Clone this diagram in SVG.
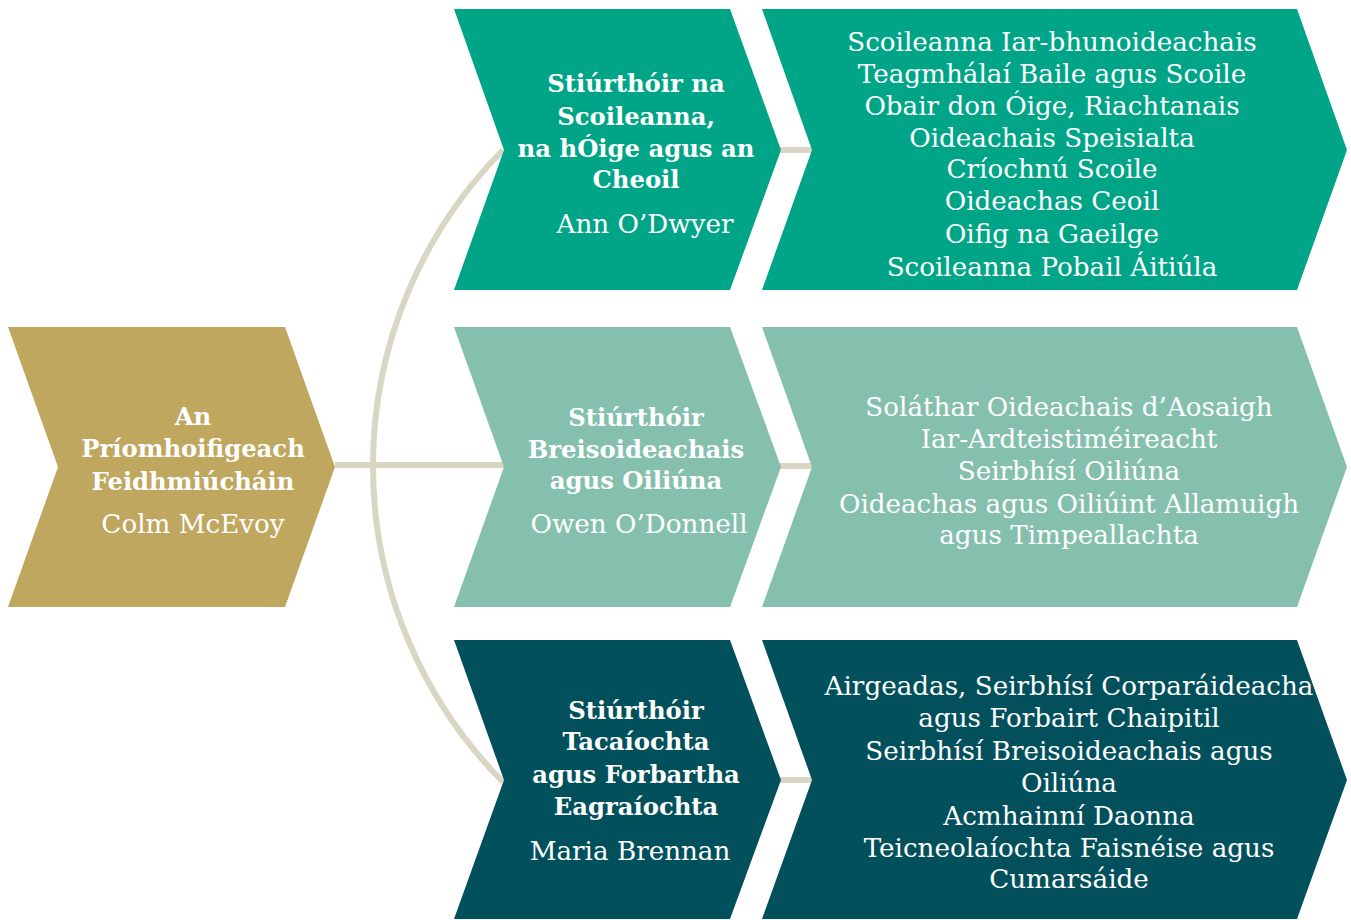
<svg xmlns="http://www.w3.org/2000/svg" width="1351" height="920" viewBox="0 0 1351 920">
<style>
.t{font-family:"DejaVu Serif","Liberation Serif",serif;fill:#ffffff;text-anchor:middle;font-size:26.2px}
.b{font-weight:bold;font-size:24.3px}
.c{fill:none;stroke:#d9d7c4;stroke-width:6}
</style>
<rect width="1351" height="920" fill="#ffffff"/>
<g id="connectors">
<path class="c" d="M335 465 L506 465"/>
<path class="c" d="M503 150 A449 449 0 0 0 503 782"/>
<path class="c" d="M777 150 L814 150" stroke-width="7"/>
<path class="c" d="M777 466 L814 466" stroke-width="7"/>
<path class="c" d="M777 780 L814 780" stroke-width="7"/>
</g>
<g id="ceo">
<polygon points="8,327 285,327 335,467 285,607 8,607 58,467" fill="#bfa760"/>
<text class="t b" x="193" y="425">An</text>
<text class="t b" x="193" y="457">Príomhoifigeach</text>
<text class="t b" x="193" y="490">Feidhmiúcháin</text>
<text class="t" x="193" y="533">Colm McEvoy</text>
</g>
<g id="dir1">
<polygon points="454,9 730,9 781,150 730,290 454,290 504,150" fill="#00a587"/>
<text class="t b" x="636" y="92">Stiúrthóir na</text>
<text class="t b" x="636" y="125">Scoileanna,</text>
<text class="t b" x="636" y="157">na hÓige agus an</text>
<text class="t b" x="636" y="188">Cheoil</text>
<text class="t" x="645" y="233">Ann O’Dwyer</text>
</g>
<g id="units1">
<polygon points="762,9 1297,9 1347,150 1297,290 762,290 812,150" fill="#00a587"/>
<text class="t" x="1052" y="51">Scoileanna Iar-bhunoideachais</text>
<text class="t" x="1052" y="83">Teagmhálaí Baile agus Scoile</text>
<text class="t" x="1052" y="115">Obair don Óige, Riachtanais</text>
<text class="t" x="1052" y="147">Oideachais Speisialta</text>
<text class="t" x="1052" y="178">Críochnú Scoile</text>
<text class="t" x="1052" y="210">Oideachas Ceoil</text>
<text class="t" x="1052" y="243">Oifig na Gaeilge</text>
<text class="t" x="1052" y="276">Scoileanna Pobail Áitiúla</text>
</g>
<g id="dir2">
<polygon points="454,327 730,327 781,467 730,607 454,607 504,467" fill="#85bfad"/>
<text class="t b" x="636" y="426">Stiúrthóir</text>
<text class="t b" x="636" y="458">Breisoideachais</text>
<text class="t b" x="636" y="489">agus Oiliúna</text>
<text class="t" x="639" y="533">Owen O’Donnell</text>
</g>
<g id="units2">
<polygon points="762,327 1297,327 1347,467 1297,607 762,607 812,467" fill="#85bfad"/>
<text class="t" x="1069" y="416">Soláthar Oideachais d’Aosaigh</text>
<text class="t" x="1069" y="448">Iar-Ardteistiméireacht</text>
<text class="t" x="1069" y="480">Seirbhísí Oiliúna</text>
<text class="t" x="1069" y="513">Oideachas agus Oiliúint Allamuigh</text>
<text class="t" x="1069" y="544">agus Timpeallachta</text>
</g>
<g id="dir3">
<polygon points="454,640 730,640 781,780 730,919 454,919 504,780" fill="#02505b"/>
<text class="t b" x="636" y="719">Stiúrthóir</text>
<text class="t b" x="636" y="750">Tacaíochta</text>
<text class="t b" x="636" y="783">agus Forbartha</text>
<text class="t b" x="636" y="815">Eagraíochta</text>
<text class="t" x="630" y="860">Maria Brennan</text>
</g>
<g id="units3">
<polygon points="762,640 1297,640 1347,780 1297,919 762,919 812,780" fill="#02505b"/>
<text class="t" x="1069" y="695">Airgeadas, Seirbhísí Corparáideacha</text>
<text class="t" x="1069" y="727">agus Forbairt Chaipitil</text>
<text class="t" x="1069" y="760">Seirbhísí Breisoideachais agus</text>
<text class="t" x="1069" y="792">Oiliúna</text>
<text class="t" x="1069" y="825">Acmhainní Daonna</text>
<text class="t" x="1069" y="857">Teicneolaíochta Faisnéise agus</text>
<text class="t" x="1069" y="888">Cumarsáide</text>
</g>
</svg>
